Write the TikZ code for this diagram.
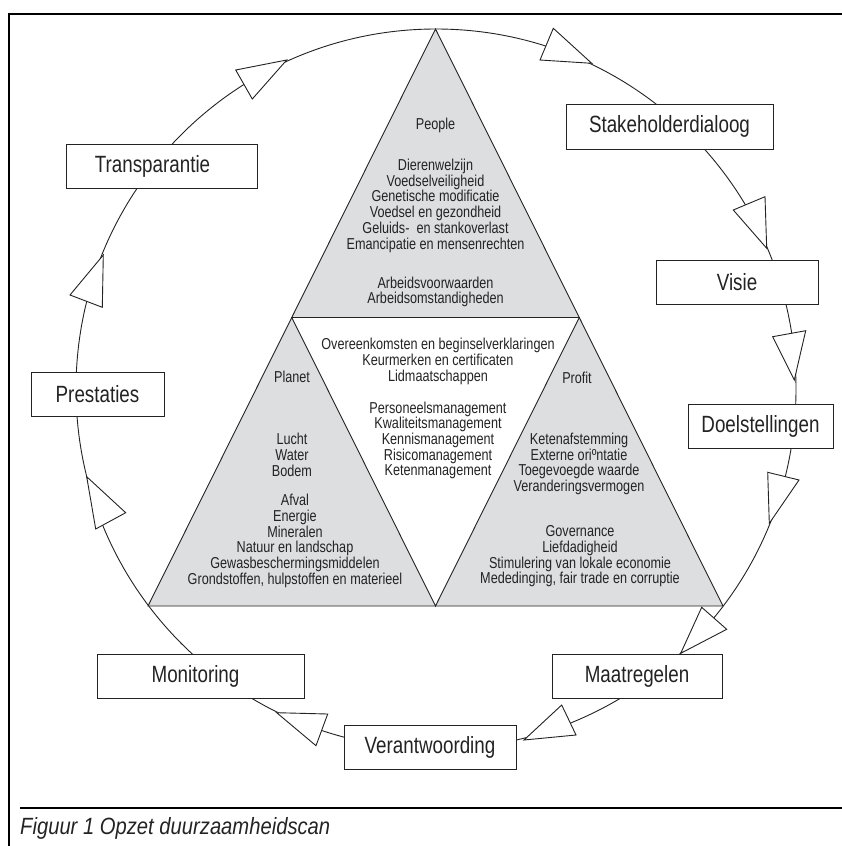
\documentclass[tikz,border=0pt]{standalone}
\usepackage{fontspec}
\usetikzlibrary{calc}
\setmainfont{Liberation Sans}[FakeStretch=0.8]
\newfontfamily\capfont{Liberation Sans Italic}[FakeStretch=0.86]
\definecolor{trigray}{RGB}{221,222,224}
\definecolor{ink}{RGB}{35,35,35}
\newcommand\biglbl{\fontsize{23.5}{27}\selectfont}
\newcommand\smalltxt{\fontsize{15.8}{15.7}\selectfont}
\newcommand\captxt{\capfont\fontsize{23.5}{27}\selectfont}
\tikzset{
  frameline/.style={draw=black, line width=2pt},
  ringline/.style={draw=ink, line width=0.9pt},
  edgeline/.style={draw=ink, line width=0.9pt, line join=miter},
  lbl/.style={draw=ink, line width=1pt, fill=white, inner sep=0pt, font=\biglbl, text=ink},
  arrowhd/.style={draw=ink, line width=0.9pt, fill=white, line join=miter},
  txt/.style={align=center, font=\smalltxt, inner sep=0pt, text=ink},
}
\begin{document}
\begin{tikzpicture}[x=1pt,y=-1pt]
\useasboundingbox (0,0) rectangle (842,846);
% frame
\coordinate (fTR) at (842,14);
\coordinate (fTL) at (9,14);
\coordinate (fBL) at (9,846);
\coordinate (cL) at (20,808);
\coordinate (cR) at (842,808);
\draw[frameline] (fTR) -- (fTL) -- (fBL);
\draw[frameline] (cL) -- (cR);
% circle
\coordinate (C) at (436,389);
\draw[ringline] (C) circle[radius=360pt];
% triangles
\coordinate (A) at (435.5,29);
\coordinate (L) at (148,606);
\coordinate (R) at (723,606);
\coordinate (AL) at ($(A)!0.5!(L)$);
\coordinate (AR) at ($(A)!0.5!(R)$);
\coordinate (LR) at ($(L)!0.5!(R)$);
\fill[trigray] (A) -- (AL) -- (AR) -- cycle;
\fill[trigray] (AL) -- (L) -- (LR) -- cycle;
\fill[trigray] (AR) -- (LR) -- (R) -- cycle;
\draw[edgeline] (A) -- (L) -- (R) -- cycle;
\draw[edgeline] (AL) -- (AR) -- (LR) -- cycle;
% boxes
\node[lbl, minimum width=207pt, minimum height=45pt] (stake) at (669.5,126.5) {Stakeholderdialoog};
\node[lbl, minimum width=162pt, minimum height=44pt] (visie) at (737,282) {Visie};
\node[lbl, minimum width=145pt, minimum height=44pt] (doel) at (760.5,426) {Doelstellingen};
\node[lbl, minimum width=170pt, minimum height=44pt] (maat) at (637,676) {Maatregelen};
\node[lbl, minimum width=172pt, minimum height=44pt] (verant) at (430,747) {Verantwoording};
\node[lbl, minimum width=207pt, minimum height=44pt] (monit) at (200.5,676) {\hspace*{-10pt}Monitoring};
\node[lbl, minimum width=133pt, minimum height=44pt] (prest) at (97.5,394) {Prestaties};
\node[lbl, minimum width=191pt, minimum height=44pt] (transp) at (161.5,166) {\hspace*{-18pt}Transparantie};
% arrowheads on the ring
\draw[arrowhd] (553.3,28.3) -- (540,60) -- (591.7,63.3) -- cycle;
\draw[arrowhd] (733.3,210) -- (765,196.7) -- (766.7,248.3) -- cycle;
\draw[arrowhd] (772.7,336.7) -- (805.7,330.7) -- (794.3,380) -- cycle;
\draw[arrowhd] (767.7,472.3) -- (799,480) -- (769.3,523.3) -- cycle;
\draw[arrowhd] (701.7,607.3) -- (726.7,629.3) -- (680.7,653.3) -- cycle;
\draw[arrowhd] (561.7,705) -- (576,735) -- (524,740) -- cycle;
\draw[arrowhd] (276.7,712.7) -- (327.7,714) -- (316,745.7) -- cycle;
\draw[arrowhd] (86.7,476.7) -- (125.7,512.7) -- (95.7,529) -- cycle;
\draw[arrowhd] (103.3,255) -- (70,295) -- (102.3,307.3) -- cycle;
\draw[arrowhd] (286.7,60) -- (235.7,70) -- (252.3,99) -- cycle;
% texts: People
\node[txt] (people) at (435.5,125.7) {People};
\node[txt] (peopleA) at (435.5,205.7) {Dierenwelzijn\\Voedselveiligheid\\Genetische modificatie\\Voedsel en gezondheid\\Geluids- \ en stankoverlast\\Emancipatie en mensenrechten};
\node[txt] (peopleB) at (435.5,291.8) {Arbeidsvoorwaarden\\Arbeidsomstandigheden};
% Planet
\node[txt] (planet) at (292,376.7) {Planet};
\node[txt] (planetA) at (292,455) {Lucht\\Water\\Bodem};
\node[txt] (planetB) at (295,541) {Afval\\Energie\\Mineralen\\Natuur en landschap\\Gewasbeschermingsmiddelen\\Grondstoffen, hulpstoffen en materieel};
% middle
\node[txt] (midA) at (438,361.3) {Overeenkomsten en beginselverklaringen\\Keurmerken en certificaten\\Lidmaatschappen};
\node[txt] (midB) at (438,440.5) {Personeelsmanagement\\Kwaliteitsmanagement\\Kennismanagement\\Risicomanagement\\Ketenmanagement};
% Profit
\node[txt] (profit) at (577,377.7) {Profit};
\node[txt] (profitA) at (579,463.8) {Ketenafstemming\\Externe oriºntatie\\Toegevoegde waarde\\Veranderingsvermogen};
\node[txt] (profitB) at (580,556.3) {Governance\\Liefdadigheid\\Stimulering van lokale economie\\Mededinging, fair trade en corruptie};
% caption
\node[anchor=base west, inner sep=0pt, font=\captxt, text=ink] (caption) at (20,834) {Figuur 1 Opzet duurzaamheidscan};
\end{tikzpicture}
\end{document}
